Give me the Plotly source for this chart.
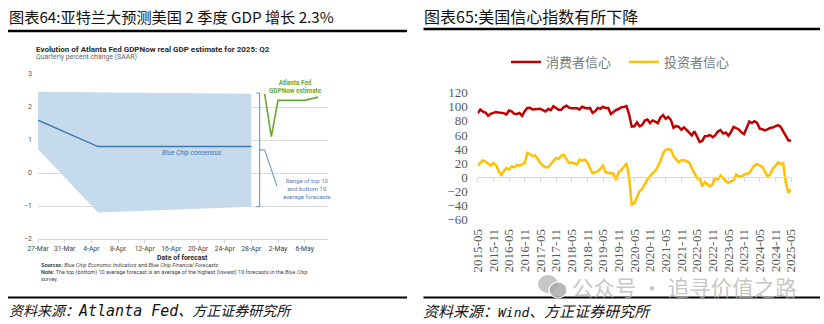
import plotly.graph_objects as go
import pandas as pd

W, H = 824, 324


def px(x):
    return x / W


def py(y):
    return 1 - y / H


# ---------------- Left chart data: Atlanta Fed GDPNow, 2025 Q2 ----------------
range_dates = ["2025-03-27", "2025-04-05", "2025-04-28"]
range_top = [2.46, 2.44, 2.40]
range_bottom = [0.72, -1.20, -1.02]
consensus_dates = ["2025-03-27", "2025-04-05", "2025-04-28"]
consensus_vals = [1.6, 0.8, 0.8]
gdpnow_dates = ["2025-04-30", "2025-05-01", "2025-05-02", "2025-05-06", "2025-05-08"]
gdpnow_vals = [2.4, 1.1, 2.2, 2.2, 2.3]
left_tick_dates = ["2025-03-27", "2025-03-31", "2025-04-04", "2025-04-08", "2025-04-12",
                   "2025-04-16", "2025-04-20", "2025-04-24", "2025-04-28", "2025-05-02",
                   "2025-05-06"]
left_tick_text = ["27-Mar", "31-Mar", "4-Apr", "8-Apr", "12-Apr", "16-Apr", "20-Apr",
                  "24-Apr", "28-Apr", "2-May", "6-May"]

# ---------------- Right chart data: US confidence indices ----------------
months = pd.period_range("2015-05", "2025-05", freq="M").strftime("%Y-%m").tolist()
consumer = [
    90.7, 96.1, 93.1, 91.9, 87.2, 90.0, 91.3, 92.6, 92.0, 91.7,
    91.0, 89.0, 94.7, 93.5, 90.0, 89.8, 91.2, 87.2, 93.8, 98.2,
    98.5, 96.3, 96.9, 97.0, 97.1, 95.1, 93.4, 96.8, 95.1, 100.7,
    98.5, 95.9, 95.7, 99.7, 101.4, 98.8, 98.0, 98.2, 97.9, 96.2,
    100.1, 98.6, 97.5, 98.3, 91.2, 93.8, 98.4, 97.2, 100.0, 98.2,
    98.4, 89.8, 93.2, 95.5, 96.8, 99.3, 99.8, 101.0, 89.1, 71.8,
    72.3, 78.1, 72.5, 74.1, 80.4, 81.8, 76.9, 80.7, 79.0, 76.8,
    84.9, 88.3, 82.9, 85.5, 81.2, 70.3, 72.8, 71.7, 67.4, 70.6,
    67.2, 62.8, 59.4, 65.2, 58.4, 50.0, 51.5, 58.2, 58.6, 59.9,
    56.8, 59.7, 64.9, 67.0, 62.0, 63.5, 59.0, 64.2, 71.5, 69.4,
    67.9, 63.8, 61.3, 69.7, 79.0, 76.9, 79.4, 77.2, 69.1, 68.2,
    66.4, 67.9, 70.1, 70.5, 71.8, 74.0, 71.7, 64.7, 57.0, 52.2,
    52.2,
]
investor = [
    16.5, 20, 24, 22, 19, 16.5, 20, 18, 8.5, 3,
    8.5, 13, 11, 15.6, 14, 17.5, 16.5, 18, 20, 34.5,
    33, 30, 31, 26, 20, 16.5, 14, 14, 18, 22.7,
    27.4, 26, 30.7, 32, 26, 20, 21, 19.4, 18, 25,
    23.6, 25, 21, 13, 6, 7, 8.5, 12, 16.5, 7,
    6, 6, 5, -4, 7, 10, 14.7, 20, 0, -38.8,
    -37, -27, -20, -16.5, -9, -3, 1.4, 6, 8.5, 15.6,
    22.7, 34.5, 39, 40, 39, 30, 25, 21, 24, 24,
    22.7, 21, 13, 7, -1, -1, -13, -7, -10, -13,
    -10, -1, -3, 2.4, -1, -5.7, -8, -5.7, -4, 3.8,
    1.4, 0.5, 3.8, 5, 6, 12, 16.5, 19, 16.5, 14.7,
    8.5, 1.4, 3.8, 12, 15.6, 21, 19, 20, -7, -22,
    -17,
]
right_ticks = months[::6]

CJK = "Noto Sans CJK SC"
LAT = "Roboto"
SERIF = "Liberation Serif"
BLUE = "#3b78b4"
FILL = "#c5dbec"
GREEN = "#6aa832"

fig = go.Figure()

# ---- left chart traces ----
fig.add_trace(go.Scatter(
    x=range_dates + range_dates[::-1], y=range_top + range_bottom[::-1],
    fill="toself", fillcolor=FILL, line=dict(width=0), mode="lines",
    hoverinfo="skip", showlegend=False, xaxis="x", yaxis="y"))
fig.add_trace(go.Scatter(
    x=consensus_dates, y=consensus_vals, mode="lines",
    line=dict(color=BLUE, width=1.5), showlegend=False, xaxis="x", yaxis="y"))
fig.add_trace(go.Scatter(
    x=gdpnow_dates, y=gdpnow_vals, mode="lines",
    line=dict(color=GREEN, width=1.6), showlegend=False, xaxis="x", yaxis="y"))

# bracket marking the top/bottom-10 range at the end of the survey window
end = pd.Timestamp(range_dates[-1])
bx = end + pd.Timedelta(hours=30)
arm = pd.Timedelta(hours=12)
top_b, bot_b = range_top[-1] + 0.02, range_bottom[-1]
mid_b = (top_b + bot_b) / 2
bxs = [bx - arm, bx, bx, bx - arm, None, bx, bx + arm * 1.5, bx + arm * 5.2]
bys = [top_b, top_b, bot_b, bot_b, None, mid_b, mid_b, mid_b - 1.1]
fig.add_trace(go.Scatter(
    x=[v.isoformat() if v is not None else None for v in bxs], y=bys, mode="lines",
    line=dict(color="#5a8cc4", width=1), showlegend=False, hoverinfo="skip",
    xaxis="x", yaxis="y"))

# ---- right chart traces ----
fig.add_trace(go.Scatter(
    x=months, y=consumer, name="消费者信心", mode="lines",
    line=dict(color="#C00000", width=2.5), xaxis="x2", yaxis="y2"))
fig.add_trace(go.Scatter(
    x=months, y=investor, name="投资者信心", mode="lines",
    line=dict(color="#FFC000", width=2.5), xaxis="x3", yaxis="y2"))

y2_dom = [py(219.5), py(92.7)]
y2_range = [-60, 120]
zero_pos = y2_dom[0] + (0 - y2_range[0]) / (y2_range[1] - y2_range[0]) * (y2_dom[1] - y2_dom[0])

fig.update_layout(
    width=W, height=H, margin=dict(l=0, r=0, t=0, b=0, pad=0, autoexpand=False),
    paper_bgcolor="white", plot_bgcolor="white",
    font=dict(family=LAT, color="#444"),
    xaxis=dict(
        domain=[px(38), px(328)], anchor="y", type="date",
        range=["2025-03-27", "2025-05-09 12:00"],
        tickvals=left_tick_dates, ticktext=left_tick_text, tickangle=0,
        tickfont=dict(family=LAT, size=6.8, color="#444"),
        showgrid=False, showline=True, linecolor="#d4d4d4", linewidth=1,
        ticks="outside", ticklen=3, tickcolor="#d4d4d4", zeroline=False,
        ticklabelstandoff=0, automargin=False),
    yaxis=dict(
        domain=[py(239), py(74)], anchor="x", range=[-2, 3], dtick=1, tick0=0,
        showgrid=True, gridcolor="#dcdcdc", gridwidth=1, zeroline=False,
        tickfont=dict(family=LAT, size=7, color="#555"), ticks="",
        ticklabelstandoff=5, automargin=False),
    xaxis2=dict(
        domain=[px(477.7), px(791)], anchor="free", position=zero_pos,
        type="category", range=[0, len(months) - 1], tickvals=right_ticks,
        showticklabels=False, showline=True, linecolor="#d9d9d9", linewidth=1,
        ticks="outside", ticklen=4, tickcolor="#d9d9d9", showgrid=False,
        zeroline=False, automargin=False),
    xaxis3=dict(
        overlaying="x2", anchor="y2", side="bottom", type="category",
        range=[0, len(months) - 1], tickvals=right_ticks, tickangle=-90,
        tickfont=dict(family=SERIF, size=13, color="#595959"),
        showline=False, ticks="", showgrid=False, zeroline=False,
        ticklabelstandoff=6, automargin=False),
    yaxis2=dict(
        domain=y2_dom, anchor="x2", range=y2_range, dtick=20, tick0=0,
        showgrid=False, zeroline=False, showline=False, ticks="",
        tickfont=dict(family=SERIF, size=13, color="#595959"),
        ticklabelstandoff=9, automargin=False),
    legend=dict(
        orientation="h", x=px(506), y=py(62), xanchor="left", yanchor="middle",
        font=dict(family=CJK, size=13, color="#7a7a7a"), bgcolor="rgba(0,0,0,0)",
        entrywidth=73, itemwidth=30),
    showlegend=True,
)

ann = []


def text(x, y, s, size, color="#000", family=CJK, anchor="left", style="normal", align="left"):
    ann.append(dict(
        x=px(x), y=py(y), xref="paper", yref="paper", text=s, showarrow=False,
        xanchor=anchor, yanchor="middle", align=align, borderpad=0,
        font=dict(family=family, size=size, color=color, style=style)))


# chart titles
text(8, 16, "图表64:亚特兰大预测美国 2 季度 GDP 增长 2.3%", 15.2, "#111")
text(423, 16, "图表65:美国信心指数有所下降", 16, "#111")
# footers (latin part in a monospace face, as in the source)
mono = "<span style=\"font-family:'DejaVu Sans Mono';font-size:%gpx\">%s</span>"
text(8, 310, "资料来源：" + mono % (15, "Atlanta Fed") + "、方正证券研究所", 14, "#111", style="italic")
text(422, 310, "资料来源：" + mono % (13, "Wind") + "、方正证券研究所", 15, "#111", style="italic")
# watermark
text(571, 286, "公众号 · 追寻价值之路", 21.5, "rgba(180,180,180,0.75)")

# left inner chart texts
text(35, 49, "<b>Evolution of Atlanta Fed GDPNow real GDP estimate for 2025: Q2</b>", 8.0, "#2b2b2b", LAT)
text(35, 57, "Quarterly percent change (SAAR)", 6.9, "#666", LAT)
text(295, 86.7, "<b>Atlanta Fed</b><br><b>GDPNow estimate</b>", 6.4, GREEN, LAT, "center", align="center")
text(192, 152.5, "<i>Blue Chip consensus</i>", 6.6, BLUE, LAT, "center")
text(307, 188.5, "Range of top 10<br>and bottom 10<br>average forecasts", 6.0, "#4a80bd", LAT, "center",
     align="center")
text(182, 257.5, "<b>Date of forecast</b>", 7.0, "#2b2b2b", LAT, "center")
text(40, 271.5,
     "<b>Sources:</b> <i>Blue Chip Economic Indicators</i> and <i>Blue Chip Financial Forecasts</i><br>"
     "<b>Note:</b> The top (bottom) 10 average forecast is an average of the highest (lowest) 10 forecasts in the <i>Blue Chip</i><br>"
     "survey.", 5.5, "#444", LAT)

fig.update_layout(annotations=ann)

shapes = [
    dict(type="line", xref="paper", yref="paper", x0=px(8), x1=px(407), y0=py(31), y1=py(31),
         line=dict(color="#000", width=2.5)),
    dict(type="line", xref="paper", yref="paper", x0=px(423.5), x1=px(820), y0=py(29), y1=py(29),
         line=dict(color="#000", width=2.5)),
    dict(type="line", xref="paper", yref="paper", x0=px(8), x1=px(407), y0=py(297.5), y1=py(297.5),
         line=dict(color="#000", width=2)),
    dict(type="line", xref="paper", yref="paper", x0=px(423.5), x1=px(820), y0=py(297.5), y1=py(297.5),
         line=dict(color="#000", width=2)),
    # wechat-like watermark icon
    dict(type="circle", xref="paper", yref="paper", x0=px(538), x1=px(558), y0=py(293), y1=py(275),
         fillcolor="rgba(185,185,185,0.8)", line=dict(width=0)),
    dict(type="circle", xref="paper", yref="paper", x0=px(549), x1=px(567), y0=py(298), y1=py(282),
         fillcolor="rgba(170,170,170,0.85)", line=dict(color="white", width=1.2)),
]
fig.update_layout(shapes=shapes)

fig.write_html("out.html")
